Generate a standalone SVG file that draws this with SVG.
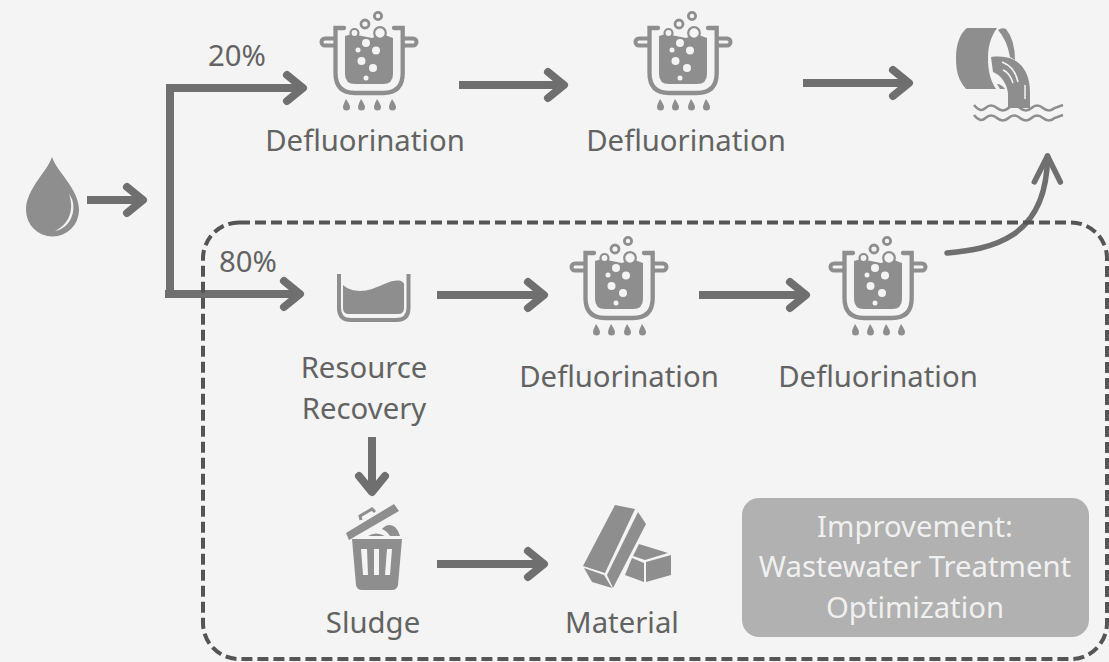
<svg xmlns="http://www.w3.org/2000/svg" xmlns:xlink="http://www.w3.org/1999/xlink" width="1109" height="662" viewBox="0 0 1109 662">
<style>
text{font-family:"Noto Sans","Open Sans","Liberation Sans",sans-serif;font-size:29.300px;fill:#636363;text-anchor:middle}
.ic{fill:#8e8e8e}
.ln{fill:none;stroke:#8e8e8e}
.a{fill:none;stroke:#6f6f6f;stroke-width:8;marker-end:url(#h)}
</style>
<defs>
<marker id="h" markerUnits="userSpaceOnUse" markerWidth="40" markerHeight="44" refX="30" refY="22" orient="auto" overflow="visible">
<path d="M14 9L30 22L14 35" fill="none" stroke="#6f6f6f" stroke-width="8" stroke-linecap="round" stroke-linejoin="round"/>
</marker>
<marker id="h2" markerUnits="userSpaceOnUse" markerWidth="40" markerHeight="44" refX="30" refY="22" orient="auto" overflow="visible">
<path d="M4 9L30 22L4 35" fill="none" stroke="#6f6f6f" stroke-width="5.500" stroke-linecap="round" stroke-linejoin="round"/>
</marker>
<g id="pot">
<path class="ln" stroke-width="4.300" stroke-linecap="round" d="M344 28H335.500V73Q335.500 93 355 93H383Q402.700 93 402.700 73V28H394"/>
<path class="ln" stroke-width="4" d="M335.500 38.500H325A3.500 3.500 0 0 0 325 45.500H335.500M402.700 38.500H413A3.500 3.500 0 0 1 413 45.500H402.700"/>
<path class="ic" d="M345 36L352 34L372 38L382 34L393 38V74Q393 84 383 84H355Q345 84 345 74Z"/>
<circle cx="354.500" cy="33" r="4" fill="#f4f4f4" stroke="#8e8e8e" stroke-width="2.200"/>
<circle cx="380" cy="33" r="5.800" fill="#f4f4f4" stroke="#8e8e8e" stroke-width="2.200"/>
<circle class="ln" stroke-width="2.800" cx="365" cy="24" r="4" fill="none"/>
<circle class="ln" stroke-width="2.800" cx="378" cy="16" r="3.600" fill="none"/>
<g fill="#f4f4f4">
<circle cx="366" cy="43" r="4"/><circle cx="358" cy="50" r="2.500"/><circle cx="376" cy="50.500" r="4"/><circle cx="361.500" cy="61" r="4"/><circle cx="373" cy="68" r="4"/><circle cx="366" cy="78" r="2.500"/>
</g>
<g class="ic">
<path d="M346 99Q350 105 350 107A3.500 3.500 0 0 1 343 107Q343 105 346 99Z"/>
<path d="M361 99Q365 105 365 107A3.500 3.500 0 0 1 358 107Q358 105 361 99Z"/>
<path d="M377 99Q381 105 381 107A3.500 3.500 0 0 1 374 107Q374 105 377 99Z"/>
<path d="M392 99Q396 105 396 107A3.500 3.500 0 0 1 389 107Q389 105 392 99Z"/>
</g>
</g>
</defs>
<rect width="1109" height="662" fill="#f4f4f4"/>

<g id="connectors">
<path class="a" d="M87 200H143"/>
<path class="a" d="M165 294H170V88H303"/>
<path class="a" d="M170 294H300"/>
<path class="a" d="M459 85H564"/>
<path class="a" d="M803 83H909"/>
<path class="a" d="M437 295H544"/>
<path class="a" d="M699 295H806"/>
<path class="a" d="M372 437V492"/>
<path class="a" d="M437 564H544"/>
<path d="M947 253C990 249 1047 240 1047.500 156" fill="none" stroke="#6f6f6f" stroke-width="5.500" stroke-linecap="round" marker-end="url(#h2)"/>
</g>

<rect id="boundary" x="203" y="222.500" width="904" height="436.500" rx="36" fill="none" stroke="#555" stroke-width="4" stroke-dasharray="11 5"/>

<g id="source">
<path class="ic" d="M52 157C47 172 26 189 26 210A26.500 26.500 0 0 0 79 210C79 189 57 172 52 157Z"/>
<path d="M69 194C73 205 73 222 55 231C68 229 77 214 72 199Z" fill="#f4f4f4"/>
</g>
<text x="237" y="66">20%</text>
<text x="248" y="272">80%</text>

<g id="pot1"><use href="#pot" xlink:href="#pot"/><text x="365" y="151">Defluorination</text></g>
<g id="pot2"><use href="#pot" xlink:href="#pot" x="314"/><text x="686" y="151">Defluorination</text></g>
<g id="pot3"><use href="#pot" xlink:href="#pot" x="250" y="225"/><text x="619" y="387">Defluorination</text></g>
<g id="pot4"><use href="#pot" xlink:href="#pot" x="509" y="225"/><text x="878" y="387">Defluorination</text></g>

<g id="discharge">
<path class="ic" d="M967 28H997C990 38 988 48 988 58C988 70 990 80 996 89H966C958 80 956 70 956 58C956 45 960 33 967 28Z"/>
<path class="ic" d="M998 30Q1002 27 1006 29Q1015 40 1015 60L1010 57Q1007 40 998 30Z"/>
<path class="ic" d="M991 57C1000 56 1008 57 1012 59C1022 63 1030 74 1030 92V108H1008V93C1007 84 1001 75 993 72Z"/>
<path class="ic" d="M997 84C1000 84 1003 86 1005 89L1000 89Z"/>
<path d="M1002 62C1010 65 1016 72 1018 82M1003 70C1008 72 1011 77 1013 83M1025 85V99" fill="none" stroke="#f4f4f4" stroke-width="1.500"/>
<path class="ln" stroke-width="2.500" d="M974 105Q980 113 985.500 108T997 108T1008.500 108T1020 108T1031.500 108T1043 108T1054.500 108L1063 105M974 115Q980 123 985.500 118T997 118T1008.500 118T1020 118T1031.500 118T1043 118T1054.500 118L1063 115"/>
</g>

<g id="resource">
<path class="ln" stroke-width="4" d="M339 274V308Q339 320 351 320H396Q408.500 320 408.500 308V274"/>
<path class="ic" d="M343 285C351 292 362 292 372 289C384 285 392 279 401 281Q405 283 404 286V308Q404 314 398 314H349Q343 314 343 308Z"/>
<text x="364" y="378">Resource</text>
<text x="364" y="419">Recovery</text>
</g>

<g id="sludge">
<path class="ic" d="M346 533L394 504L399 511L349 540Z"/>
<path class="ln" stroke-width="3" d="M361 520L360 516L372 509L375 512"/>
<path class="ic" d="M368 536Q376 531 385 536ZM382 529Q388 522 395 527Q399 531 400 536H390Q387 531 382 529Z"/>
<path class="ic" fill-rule="evenodd" d="M352 539H402L398 585Q397 590 392 590H362Q357 590 356 585ZM361 549L363 575H368L367 549ZM374 549V575H379V549ZM387 549L385 575H390L392 549Z"/>
<text x="373" y="633">Sludge</text>
</g>

<g id="material">
<path class="ic" d="M615 505L635 509L605 573L583 566Z"/>
<path class="ic" d="M638 512L646 524L613 588L607 575Z"/>
<path class="ic" d="M584 568L604 575L612 588L592 582Z"/>
<path class="ic" d="M639 544L668 553L645 560L633 556Z"/>
<path class="ic" d="M632 558L644 563V582L625 575Z"/>
<path class="ic" d="M646 562L671 555V575L646 582Z"/>
<text x="622" y="633">Material</text>
</g>

<g id="improvement">
<rect x="742" y="498" width="347" height="139" rx="17" fill="#b1b1b1"/>
<text x="915" y="537" style="fill:#f0f0f0">Improvement:</text>
<text x="915" y="577" style="fill:#f0f0f0">Wastewater Treatment</text>
<text x="915" y="618" style="fill:#f0f0f0">Optimization</text>
</g>
</svg>
